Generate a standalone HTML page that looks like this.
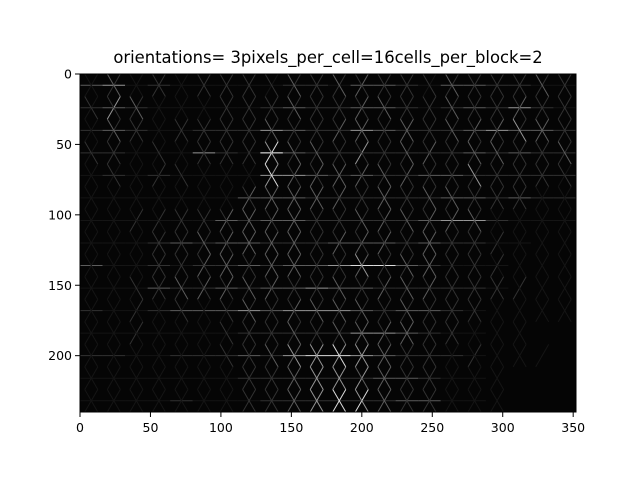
<!DOCTYPE html>
<html><head><meta charset="utf-8">
<style>
html,body{margin:0;padding:0;background:#fff;}
svg{display:block;font-family:"DejaVu Sans","Liberation Sans",sans-serif;}
</style></head>
<body>
<svg id="chart" width="640" height="480" viewBox="0 0 640 480">
<rect x="0" y="0" width="640" height="480" fill="#fff"/>
<text x="328" y="63" text-anchor="middle" font-size="16.4" fill="#000">orientations= 3pixels_per_cell=16cells_per_block=2</text>
<rect x="80" y="74" width="496" height="338" fill="#050505"/>
<g id="marks"></g>
<g id="axes"></g>
</svg>
<script>
const xTicks = [0, 50, 100, 150, 200, 250, 300, 350];
const yTicks = [0, 50, 100, 150, 200];
const imgWidth = 352;
const imgHeight = 240;
const cellSize = 16;
const horizontalGrid = [
"3412111112213321332211",
"2321111123223321232421",
"2321122243224322234332",
"2211142163222222232322",
"1212111144323223322222",
"1111111333222222332322",
"1111113233222223442111",
"1112323322233323221100",
"3112122323345532111000",
"1113223233433222221000",
"2112333434443233210000",
"1111111222224432110000",
"2211222324554322210000",
"1111111222222332110000",
"1111211122222233110000"
];
const slashGrid = [
"1212122212223221222222",
"1421112222223222222322",
"1221222222233232233232",
"1211122252224223222222",
"1112111143333232222221",
"1111111333332322222211",
"1122223333222323321111",
"1112223333233323222111",
"1112233233223223222111",
"1112233232222323222211",
"1121111223222222221111",
"1121111222223332211100",
"1111111223444322121110",
"1111111223444322111000",
"1111111223455322111000"
];
const backslashGrid = [
"1312122223232222322232",
"2231112223222322322222",
"1321222232223232322432",
"2212122243322232233223",
"1211211152232322242222",
"1111111233322323322211",
"1111222323223232231111",
"1112232333222223221111",
"1112223233224233221111",
"1122322322232232222111",
"1111212322333232221111",
"1111112223233232211100",
"1111112234454322111100",
"1111111223443322111000",
"1111111223454322111000"
];

const L = 80, R = 576, T = 74, B = 412;
const sx = (R - L) / imgWidth, sy = (B - T) / imgHeight;
const X = v => L + v * sx;
const Y = v => T + v * sy;
const NS = "http://www.w3.org/2000/svg";
const marks = document.getElementById('marks');
const axes = document.getElementById('axes');
function gray(d){ const g = Math.min(255, Math.round(d * d * 7 + d * 8 + 6)); return `rgb(${g},${g},${g})`; }
function line(parent, x1, y1, x2, y2, stroke, w){
  const l = document.createElementNS(NS, 'line');
  l.setAttribute('x1', x1); l.setAttribute('y1', y1);
  l.setAttribute('x2', x2); l.setAttribute('y2', y2);
  l.setAttribute('stroke', stroke); l.setAttribute('stroke-width', w);
  parent.appendChild(l);
  return l;
}
const half = cellSize / 2;
const dx = half * Math.tan(Math.PI / 6);
horizontalGrid.forEach((row, r) => {
  for (let c = 0; c < row.length; c++) {
    const cx = c * cellSize + half, cy = r * cellSize + half;
    const h = +row[c], a = +slashGrid[r][c], b = +backslashGrid[r][c];
    if (h > 0) {
      const e = line(marks, X(cx - half), Y(cy), X(cx + half), Y(cy), gray(h), 1);
      
      
    }
    if (a > 0) {
      const e = line(marks, X(cx - dx), Y(cy + half), X(cx + dx), Y(cy - half), gray(a), 1);
      
      
    }
    if (b > 0) {
      const e = line(marks, X(cx - dx), Y(cy - half), X(cx + dx), Y(cy + half), gray(b), 1);
      
      
    }
  }
});
const sp = document.createElementNS(NS, 'rect');
sp.setAttribute('x', L); sp.setAttribute('y', T);
sp.setAttribute('width', R - L); sp.setAttribute('height', B - T);
sp.setAttribute('fill', 'none'); sp.setAttribute('stroke', '#000'); sp.setAttribute('stroke-width', 1);


axes.appendChild(sp);
xTicks.forEach(v => {
  const x = X(v);
  const t = line(axes, x, B, x, B + 5, '#000', 1);
  
  
  const tx = document.createElementNS(NS, 'text');
  tx.setAttribute('x', x); tx.setAttribute('y', B + 20);
  tx.setAttribute('text-anchor', 'middle'); tx.setAttribute('font-size', '12.5');
  tx.textContent = v;
  
  
  axes.appendChild(tx);
});
yTicks.forEach(v => {
  const y = Y(v);
  const t = line(axes, L - 5, y, L, y, '#000', 1);
  
  
  const tx = document.createElementNS(NS, 'text');
  tx.setAttribute('x', L - 8); tx.setAttribute('y', y + 4.5);
  tx.setAttribute('text-anchor', 'end'); tx.setAttribute('font-size', '12.5');
  tx.textContent = v;
  
  
  axes.appendChild(tx);
});
</script>
</body></html>
